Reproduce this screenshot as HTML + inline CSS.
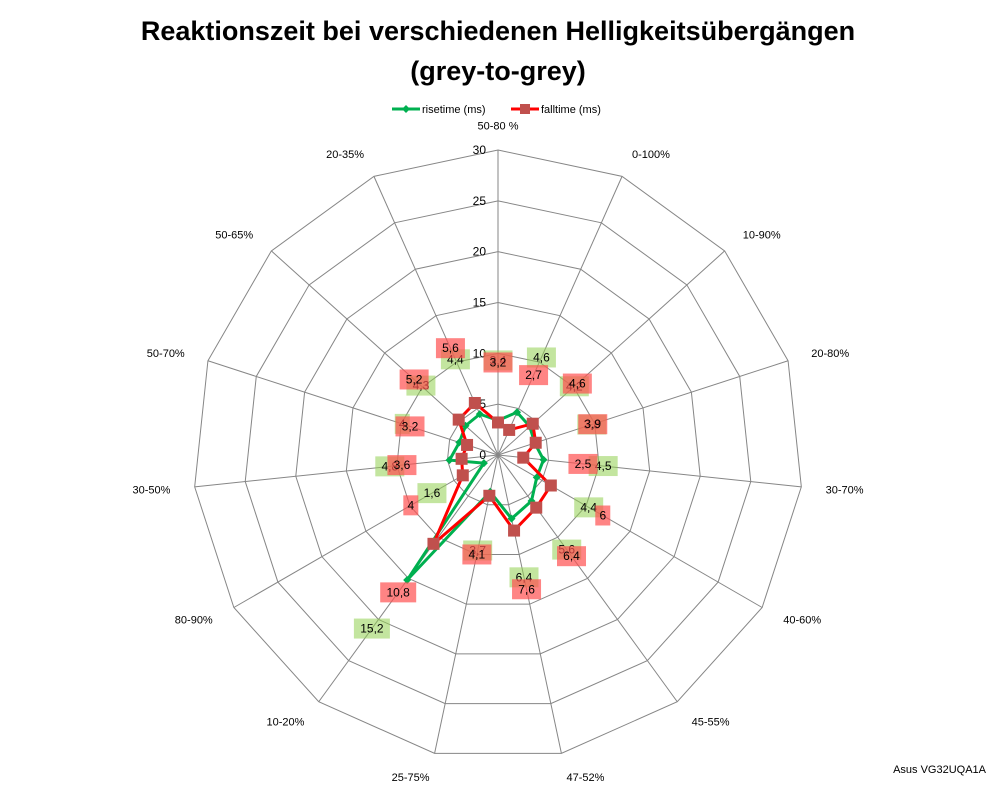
<!DOCTYPE html>
<html><head><meta charset="utf-8"><style>
body{margin:0;background:#fff;font-family:"Liberation Sans",sans-serif}
svg text{font-family:"Liberation Sans",sans-serif}
</style></head><body>
<svg id="c" width="998" height="786" xmlns="http://www.w3.org/2000/svg">
<text x="498" y="40" text-anchor="middle" font-size="27" font-weight="bold">Reaktionszeit bei verschiedenen Helligkeitsübergängen</text>
<text x="498" y="80" text-anchor="middle" font-size="27" font-weight="bold">(grey-to-grey)</text>
<g>
<line x1="392" y1="109" x2="420" y2="109" stroke="#00b050" stroke-width="3"/>
<path d="M406 105 L410 109 L406 113 L402 109Z" fill="#00b050"/>
<text x="422" y="113" font-size="11">risetime (ms)</text>
<line x1="511" y1="109" x2="539" y2="109" stroke="#ff0000" stroke-width="3"/>
<rect x="520" y="104" width="10" height="10" fill="#c0504d"/>
<text x="541" y="113" font-size="11">falltime (ms)</text>
</g>
<g id="grid"></g><g id="ticks"></g><g id="cats"></g><g id="series"></g><g id="labels"></g>
<text x="986" y="773" text-anchor="end" font-size="11">Asus VG32UQA1A</text>
</svg>
<script>
const categories=["50-80 %","0-100%","10-90%","20-80%","30-70%","40-60%","45-55%","47-52%","25-75%","10-20%","80-90%","30-50%","50-70%","50-65%","20-35%"];
const risetime=[3.4,4.6,4.2,3.8,4.5,4.4,5.6,6.4,3.7,15.2,1.6,4.8,4,4.3,4.4];
const falltime=[3.2,2.7,4.6,3.9,2.5,6,6.4,7.6,4.1,10.8,4,3.6,3.2,5.2,5.6];
const ticks=[0,5,10,15,20,25,30];
const NS="http://www.w3.org/2000/svg";
const cx=498,cy=455,R=305,max=30;
const n=categories.length;
function r(v){return v/max*R;}
function pt(i,v){const a=i*2*Math.PI/n;return [cx+Math.sin(a)*r(v),cy-Math.cos(a)*r(v)];}
function mk(tag,attrs,parent){const e=document.createElementNS(NS,tag);for(const k in attrs)e.setAttribute(k,attrs[k]);document.getElementById(parent).appendChild(e);return e;}
ticks.slice(1).forEach(t=>{
 const p=mk('polygon',{points:categories.map((c,i)=>pt(i,t).join(',')).join(' '),fill:'none',stroke:'#868686','stroke-width':1},'grid');
 
 
});
categories.forEach((c,i)=>{
 const [x,y]=pt(i,max);
 const l=mk('line',{x1:cx,y1:cy,x2:x,y2:y,stroke:'#868686','stroke-width':1},'grid');
 
 
 const a=i*2*Math.PI/n;const [lx,ly]=pt(i,max+2.4);
 const s=Math.sin(a);
 const t=mk('text',{x:lx,y:ly+4,'font-size':11,'text-anchor':Math.abs(s)<0.2?'middle':(s>0?'start':'end')},'cats');
 t.textContent=c;
 
 
});
ticks.forEach(t=>{
 const e=mk('text',{x:cx-12,y:cy-r(t)+4,'font-size':12,'text-anchor':'end'},'ticks');
 e.textContent=t;
 
 
});
function series(vals,color,mcolor,shape,lbg,name){
 const pl=mk('polygon',{points:vals.map((v,i)=>pt(i,v).join(',')).join(' '),fill:'none',stroke:color,'stroke-width':3},'series');
 
 
 vals.forEach((v,i)=>{
  const [x,y]=pt(i,v);
  let m;
  if(shape==='sq'){m=mk('rect',{x:x-6,y:y-6,width:12,height:12,fill:mcolor},'series');}
  else{m=mk('path',{d:`M${x} ${y-4}L${x+4} ${y}L${x} ${y+4}L${x-4} ${y}Z`,fill:mcolor},'series');}
  
  
  const a=i*2*Math.PI/n;const rr=r(v)+60;
  const lx=cx+Math.sin(a)*rr,ly=cy-Math.cos(a)*rr;
  const txt=String(v).replace('.',',');
  const w=txt.length*7+8;
  const b=mk('rect',{x:lx-w/2,y:ly-10,width:w,height:20,fill:lbg},'labels');
  
  
  const t=mk('text',{x:lx,y:ly+4,'font-size':12,'text-anchor':'middle'},'labels');
  t.textContent=txt;
  
  
 });
}
series(risetime,'#00b050','#00b050','dia','rgba(146,208,80,0.55)','risetime');
series(falltime,'#ff0000','#c0504d','sq','rgba(255,80,80,0.7)','falltime');
</script>
</body></html>
